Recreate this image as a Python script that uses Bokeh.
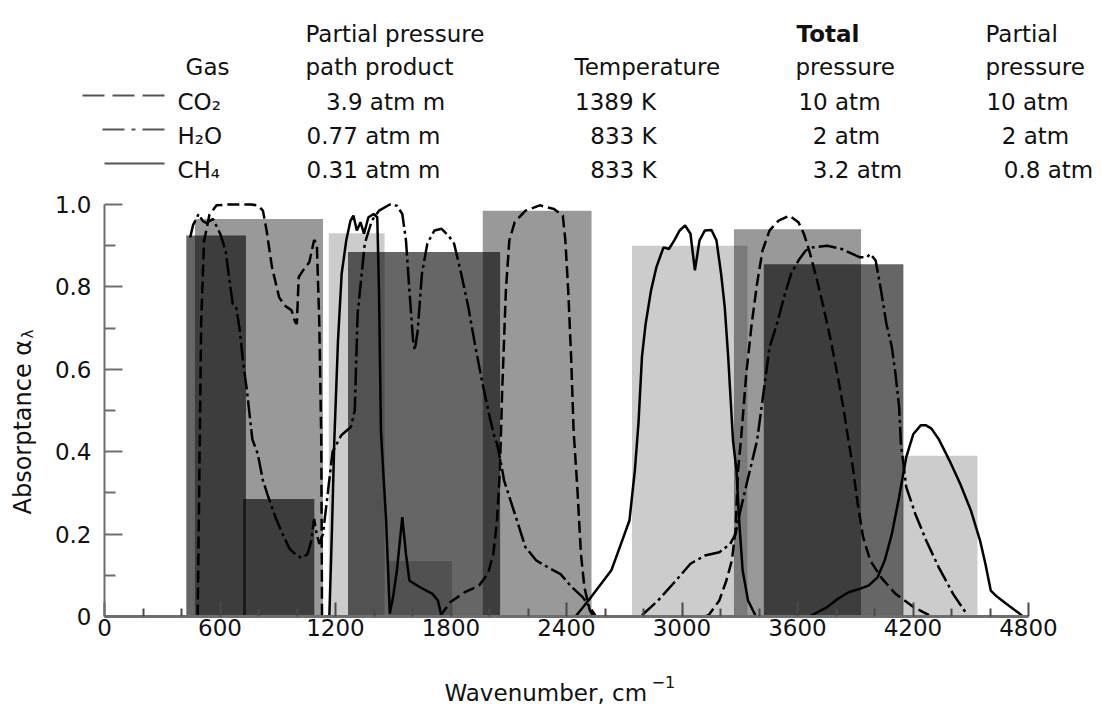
import math
from bokeh.plotting import figure
from bokeh.models import Range1d, FixedTicker, CustomJSTickFormatter, ColumnDataSource
from bokeh.embed import file_html
from bokeh.resources import INLINE
from bokeh.core.properties import value

FONT = "DejaVu Sans"

# ---------------- data ----------------
gases = ["CO₂", "H₂O", "CH₄"]
path_product = ["3.9 atm m", "0.77 atm m", "0.31 atm m"]
temperature = ["1389 K", "833 K", "833 K"]
total_pressure = ["10 atm", "2 atm", "3.2 atm"]
partial_pressure = ["10 atm", "2 atm", "0.8 atm"]

# band (block) approximations
band_gas = ["H2O", "CO2", "H2O", "CH4", "H2O", "CH4", "CO2", "CH4", "CO2", "H2O", "CH4"]
band_left = [425, 470, 720, 1165, 1265, 1475, 1965, 2740, 3270, 3425, 4145]
band_right = [735, 1135, 1090, 1455, 2055, 1805, 2530, 3340, 3930, 4150, 4535]
band_top = [0.925, 0.965, 0.285, 0.93, 0.885, 0.135, 0.985, 0.90, 0.94, 0.855, 0.39]

# CO2 curves (dashed)
co2_15_w = [484, 495, 502, 517, 545, 582, 640, 700, 760, 796, 823, 842, 870, 907, 935, 972, 990, 999,
            1009, 1037, 1064, 1089, 1103, 1116, 1126, 1130]
co2_15_a = [0, 0.43, 0.71, 0.91, 0.975, 0.998, 1.0, 1.0, 1.0, 0.998, 0.985, 0.937, 0.848, 0.775, 0.755,
            0.743, 0.715, 0.71, 0.824, 0.844, 0.86, 0.914, 0.905, 0.71, 0.43, 0]
co2_43_w = [1741, 1797, 1872, 1946, 1992, 2020, 2039, 2054, 2066, 2085, 2103, 2131, 2187, 2261, 2335,
            2381, 2394, 2409, 2424, 2437, 2456, 2475, 2493, 2521, 2540]
co2_43_a = [0, 0.035, 0.059, 0.075, 0.104, 0.152, 0.233, 0.354, 0.549, 0.791, 0.913, 0.957, 0.985, 0.998,
            0.989, 0.973, 0.913, 0.791, 0.63, 0.45, 0.314, 0.152, 0.071, 0.015, 0]
co2_27_w = [3119, 3138, 3194, 3231, 3259, 3278, 3291, 3306, 3334, 3362, 3390, 3418, 3455, 3502, 3558,
            3605, 3633, 3661, 3698, 3735, 3773, 3810, 3838, 3857, 3885, 3913, 3941, 3978, 4034, 4109,
            4202, 4268, 4296]
co2_27_a = [0, 0.003, 0.039, 0.088, 0.136, 0.209, 0.354, 0.427, 0.589, 0.71, 0.808, 0.888, 0.937, 0.961,
            0.973, 0.957, 0.929, 0.888, 0.823, 0.751, 0.67, 0.581, 0.508, 0.45, 0.37, 0.273, 0.192, 0.136,
            0.095, 0.055, 0.023, 0.007, 0]

# H2O curves (dash-dot)
h2o_rot_w = [445, 460, 489, 510, 530, 564, 601, 629, 647, 666, 684, 703, 721, 740, 768, 796, 823, 851,
             888, 925, 962, 999, 1027, 1055, 1074, 1089, 1102, 1116, 1135, 1160, 1185, 1230, 1280, 1300,
             1315, 1352, 1389, 1426, 1482, 1519, 1547, 1566, 1584, 1603, 1612, 1627, 1649, 1677, 1714,
             1751, 1788, 1816, 1853, 1890, 1927, 1964, 2001, 2029, 2039, 2057, 2076, 2131, 2187, 2243,
             2317, 2369, 2428, 2484, 2521, 2549]
h2o_rot_a = [0.92, 0.95, 0.977, 0.96, 0.955, 0.965, 0.929, 0.888, 0.824, 0.759, 0.751, 0.694, 0.613,
             0.548, 0.43, 0.395, 0.33, 0.29, 0.241, 0.2, 0.164, 0.148, 0.142, 0.152, 0.184, 0.237, 0.2,
             0.176, 0.2, 0.3, 0.4, 0.44, 0.46, 0.5, 0.735, 0.905, 0.961, 0.985, 1.0, 0.997, 0.977, 0.913,
             0.791, 0.67, 0.646, 0.694, 0.832, 0.905, 0.937, 0.941, 0.924, 0.905, 0.832, 0.751, 0.654,
             0.565, 0.484, 0.43, 0.42, 0.379, 0.33, 0.25, 0.168, 0.136, 0.116, 0.103, 0.071, 0.047, 0.023,
             0.003]
h2o_27_w = [2792, 2876, 2970, 3044, 3119, 3194, 3250, 3278, 3300, 3340, 3390, 3418, 3455, 3493, 3530,
            3567, 3605, 3642, 3680, 3754, 3829, 3885, 3922, 3960, 3978, 4006, 4034, 4062, 4090, 4109,
            4128, 4137, 4165, 4212, 4268, 4333, 4408, 4483]
h2o_27_a = [0.003, 0.039, 0.088, 0.128, 0.148, 0.156, 0.176, 0.2, 0.25, 0.33, 0.427, 0.524, 0.654, 0.71,
            0.775, 0.832, 0.864, 0.888, 0.896, 0.9, 0.892, 0.88, 0.872, 0.872, 0.88, 0.864, 0.791, 0.71,
            0.654, 0.589, 0.508, 0.42, 0.314, 0.249, 0.185, 0.12, 0.055, 0.003]

# CH4 curves (solid)
ch4_77_w = [1168, 1181, 1194, 1213, 1232, 1256, 1278, 1293, 1311, 1330, 1348, 1371, 1398, 1417, 1426,
            1436, 1463, 1482, 1500, 1519, 1547, 1566, 1584, 1639, 1704, 1732, 1751]
ch4_77_a = [0, 0.2, 0.43, 0.67, 0.832, 0.913, 0.961, 0.973, 0.937, 0.957, 0.929, 0.969, 0.977, 0.969,
            0.79, 0.45, 0.233, 0.007, 0.05, 0.112, 0.241, 0.152, 0.087, 0.071, 0.055, 0.039, 0]
ch4_33_w = [2447, 2521, 2633, 2727, 2755, 2774, 2792, 2811, 2839, 2867, 2904, 2932, 2960, 2988, 3016,
            3044, 3067, 3091, 3119, 3153, 3179, 3203, 3222, 3240, 3255, 3265, 3283, 3297, 3315, 3343, 3381]
ch4_33_a = [0, 0.043, 0.112, 0.233, 0.354, 0.47, 0.63, 0.71, 0.791, 0.848, 0.896, 0.892, 0.913, 0.937,
            0.949, 0.929, 0.84, 0.913, 0.937, 0.938, 0.913, 0.832, 0.751, 0.63, 0.508, 0.427, 0.354, 0.233,
            0.112, 0.039, 0.003]
ch4_24_w = [3661, 3754, 3810, 3866, 3922, 3969, 4016, 4053, 4090, 4128, 4165, 4202, 4240, 4268, 4296,
            4333, 4389, 4445, 4501, 4548, 4576, 4604, 4632, 4688, 4753, 4772]
ch4_24_a = [0, 0.023, 0.043, 0.059, 0.067, 0.075, 0.095, 0.136, 0.2, 0.29, 0.387, 0.443, 0.464, 0.464,
            0.456, 0.431, 0.379, 0.322, 0.257, 0.185, 0.128, 0.063, 0.05, 0.03, 0.007, 0]

x_ticks = [0, 600, 1200, 1800, 2400, 3000, 3600, 4200, 4800]
x_minor = [200, 400, 800, 1000, 1400, 1600, 2000, 2200, 2600, 2800, 3200, 3400, 3800, 4000, 4400, 4600]
y_ticks = [0, 0.2, 0.4, 0.6, 0.8, 1.0]
y_minor = [0.1, 0.3, 0.5, 0.7, 0.9]

# ---------------- styles / layout ----------------
gas_alpha = {"H2O": 0.6, "CO2": 0.4, "CH4": 0.2}
gas_dash = {"CO2": "12 5", "H2O": "18 4 3 4", "CH4": "solid"}
TXT = "#111111"
FS = "23px"

W, H = 1102, 704
PX_LEFT, PX_RIGHT = 104, 1028   # pixels of wavenumber 0 and 4800
PY_ZERO, PX_PER_A = 616, 412.0  # pixel of absorptance 0, pixels per unit absorptance
X_SPAN = 4800.0


def wx(px):
    """pixel x -> data x"""
    return (px - PX_LEFT) * X_SPAN / (PX_RIGHT - PX_LEFT)


def ay(py):
    """pixel y -> data y"""
    return (PY_ZERO - py) / PX_PER_A


p = figure(width=W, height=H,
           x_range=Range1d(wx(0), wx(W)), y_range=Range1d(ay(H), ay(0)),
           min_border=0, output_backend="svg", toolbar_location=None)
p.outline_line_color = None
p.grid.visible = False


def put(px, py, text, align="left", size=FS, style="normal", angle=0.0):
    p.text(x=[wx(px)], y=[ay(py)], text=[text], text_font=value(FONT), text_font_size=size,
           text_align=align, text_baseline="alphabetic", text_color=TXT,
           text_font_style=style, angle=angle)


# ---- header table / legend ----
row1, row2 = 33, 66
rows = [101, 135, 169]
put(229, row2, "Gas", align="right")
put(305, row1, "Partial pressure")
put(305, row2, "path product")
put(574, row2, "Temperature")
put(796, row1, "Total", style="bold")
put(795, row2, "pressure")
put(985, row1, "Partial")
put(985, row2, "pressure")
for i, yy in enumerate(rows):
    put(177, yy, gases[i])
path_cx = [385, 373, 373]
temp_cx = [615, 623, 623]
tot_cx = [839, 846, 857]
par_cx = [1027, 1035, 1048]
for i, yy in enumerate(rows):
    put(path_cx[i], yy, path_product[i], align="center")
    put(temp_cx[i], yy, temperature[i], align="center")
    put(tot_cx[i], yy, total_pressure[i], align="center")
    put(par_cx[i], yy, partial_pressure[i], align="center")

legend_x = [(82, 164), (102, 164), (104, 164)]
legend_dash = ["22 8", "22 7 4 7", "solid"]
for (x0, x1), yy, dsh in zip(legend_x, rows, legend_dash):
    p.line(x=[wx(x0), wx(x1)], y=[ay(yy - 6), ay(yy - 6)], line_color="#555555",
           line_width=2.2, line_dash=dsh)

# ---- bands ----
band_src = ColumnDataSource(dict(left=band_left, right=band_right, top=band_top,
                                 bottom=[0] * len(band_left),
                                 alpha=[gas_alpha[g] for g in band_gas]))
p.quad(left="left", right="right", top="top", bottom="bottom", source=band_src,
       fill_color="black", fill_alpha="alpha", line_color=None)

# ---- curves ----
curves = [
    (co2_15_w, co2_15_a, "CO2"), (co2_43_w, co2_43_a, "CO2"), (co2_27_w, co2_27_a, "CO2"),
    (h2o_rot_w, h2o_rot_a, "H2O"), (h2o_27_w, h2o_27_a, "H2O"),
    (ch4_77_w, ch4_77_a, "CH4"), (ch4_33_w, ch4_33_a, "CH4"), (ch4_24_w, ch4_24_a, "CH4"),
]
for w, a, g in curves:
    p.line(w, a, line_color="black", line_width=2.5, line_dash=gas_dash[g])

# ---- axes (drawn inside the frame at x = 0 and y = 0) ----
AX = "#6e6e6e"
xa = p.xaxis[0]
xa.fixed_location = 0
xa.bounds = (0, 4800)
xa.ticker = FixedTicker(ticks=x_ticks, minor_ticks=x_minor)
xa.axis_line_color = AX
xa.axis_line_width = 3
xa.major_tick_in = 14
xa.major_tick_out = 0
xa.minor_tick_in = 8
xa.minor_tick_out = 0
xa.major_tick_line_color = "#4a4a4a"
xa.minor_tick_line_color = "#4a4a4a"
xa.major_tick_line_width = 2
xa.minor_tick_line_width = 2
xa.major_label_standoff = 2
xa.major_label_text_font = FONT
xa.major_label_text_font_size = FS
xa.major_label_text_color = TXT

ya = p.yaxis[0]
ya.fixed_location = 0
ya.bounds = (0, 1)
ya.ticker = FixedTicker(ticks=y_ticks, minor_ticks=y_minor)
ya.formatter = CustomJSTickFormatter(code="return tick == 0 ? '0' : tick.toFixed(1);")
ya.axis_line_color = AX
ya.axis_line_width = 2
ya.major_tick_in = 18
ya.major_tick_out = 0
ya.minor_tick_in = 11
ya.minor_tick_out = 0
ya.major_tick_line_color = AX
ya.minor_tick_line_color = AX
ya.major_tick_line_width = 2
ya.minor_tick_line_width = 2
ya.major_label_standoff = 13
ya.major_label_text_font = FONT
ya.major_label_text_font_size = FS
ya.major_label_text_color = TXT

# axis titles
put(22, 514, "Absorptance α", size="24px", angle=math.pi / 2)
put(27, 338, "λ", size="15px", angle=math.pi / 2)
put(444, 692, "Wavenumber, cm")
put(651, 681, "−1", size="16px")

open("out.html", "w").write(file_html(p, INLINE))
